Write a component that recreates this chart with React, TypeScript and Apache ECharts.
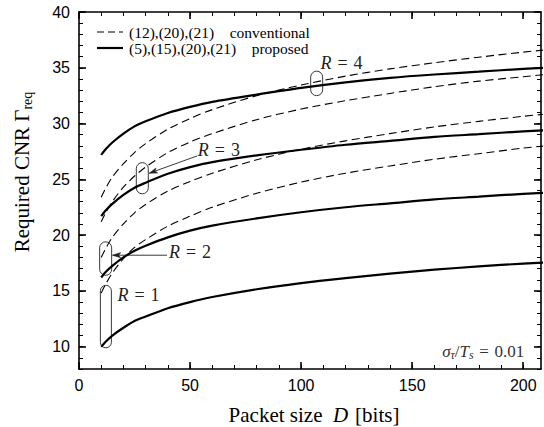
import React, { useEffect, useRef } from "react";
import * as echarts from "echarts";

// Packet size D [bits]
const packetSize = [10, 12, 15, 20, 25, 30, 40, 50, 60, 80, 100, 120, 140, 160, 180, 200, 210];

// proposed: (5),(15),(20),(21)
const proposedR1 = [10.0, 10.45, 11.0, 11.7, 12.3, 12.7, 13.45, 14.0, 14.45, 15.15, 15.7, 16.15, 16.55, 16.9, 17.2, 17.45, 17.55];
const proposedR2 = [16.2, 16.7, 17.25, 18.0, 18.6, 19.05, 19.8, 20.4, 20.85, 21.5, 22.05, 22.5, 22.85, 23.2, 23.45, 23.7, 23.8];
const proposedR3 = [21.7, 22.2, 22.8, 23.6, 24.25, 24.7, 25.5, 26.1, 26.55, 27.15, 27.65, 28.1, 28.45, 28.8, 29.05, 29.3, 29.4];
const proposedR4 = [27.2, 27.7, 28.3, 29.1, 29.75, 30.2, 30.95, 31.5, 31.95, 32.6, 33.2, 33.7, 34.1, 34.4, 34.65, 34.9, 35.0];

// conventional: (12),(20),(21)
const conventionalR1 = [14.8, 15.6, 16.6, 17.9, 18.9, 19.6, 20.8, 21.7, 22.5, 23.75, 24.75, 25.55, 26.2, 26.8, 27.3, 27.8, 28.0];
const conventionalR2 = [18.0, 18.8, 19.8, 21.0, 22.0, 22.75, 23.95, 24.8, 25.55, 26.75, 27.7, 28.45, 29.1, 29.7, 30.2, 30.65, 30.85];
const conventionalR3 = [21.2, 22.0, 23.0, 24.3, 25.3, 26.1, 27.4, 28.35, 29.1, 30.35, 31.3, 32.05, 32.7, 33.3, 33.8, 34.2, 34.4];
const conventionalR4 = [23.4, 24.2, 25.2, 26.4, 27.4, 28.2, 29.5, 30.45, 31.25, 32.5, 33.45, 34.25, 34.9, 35.45, 35.95, 36.4, 36.6];

// axes
const xMin = 0;
const xMax = 208;
const yMin = 8;
const yMax = 40;
const xMajorTicks = [0, 50, 100, 150, 200];
const xMinorTicks = [0, 10, 20, 30, 40, 50, 60, 70, 80, 90, 100, 110, 120, 130, 140, 150, 160, 170, 180, 190, 200];
const yMajorTicks = [10, 15, 20, 25, 30, 35, 40];
const yMinorTicks = [8, 9, 10, 11, 12, 13, 14, 15, 16, 17, 18, 19, 20, 21, 22, 23, 24, 25, 26, 27, 28, 29, 30, 31, 32, 33, 34, 35, 36, 37, 38, 39, 40];

const legendConventional = "(12),(20),(21)\u2002\u2002conventional";
const legendProposed = "(5),(15),(20),(21)\u2002\u2002proposed";

const SERIF = "'Liberation Serif', 'Times New Roman', serif";
const SANS = "'Liberation Sans', Arial, sans-serif";

function makeSeries(name: string, values: number[], dashed: boolean) {
  return {
    type: "line",
    name,
    data: packetSize.map((d, i) => [d, values[i]]),
    showSymbol: false,
    symbol: "none",
    smooth: 0.3,
    clip: true,
    silent: true,
    xAxisIndex: 0,
    yAxisIndex: 0,
    lineStyle: {
      color: "#000",
      width: dashed ? 1.1 : 2.2,
      type: dashed ? [8, 4.5] : "solid",
    },
  };
}

function xAxisDef(position: "bottom" | "top", major: boolean, labels: boolean) {
  return {
    type: "value",
    min: xMin,
    max: xMax,
    position,
    axisLine: { show: major, onZero: false, lineStyle: { color: "#000", width: 1.6 } },
    axisTick: {
      show: true,
      inside: true,
      length: major ? 7 : 4,
      customValues: major ? xMajorTicks : xMinorTicks,
      lineStyle: { color: "#000", width: major ? 1.6 : 1 },
    },
    axisLabel: labels
      ? { show: true, customValues: xMajorTicks, color: "#000", fontFamily: SANS, fontSize: 16, margin: 8 }
      : { show: false },
    splitLine: { show: false },
  };
}

function yAxisDef(position: "left" | "right", major: boolean, labels: boolean) {
  return {
    type: "value",
    min: yMin,
    max: yMax,
    position,
    axisLine: { show: major, onZero: false, lineStyle: { color: "#000", width: 1.6 } },
    axisTick: {
      show: true,
      inside: true,
      length: major ? 7 : 4,
      customValues: major ? yMajorTicks : yMinorTicks,
      lineStyle: { color: "#000", width: major ? 1.6 : 1 },
    },
    axisLabel: labels
      ? { show: true, customValues: yMajorTicks, color: "#000", fontFamily: SANS, fontSize: 16, margin: 9 }
      : { show: false },
    splitLine: { show: false },
  };
}

function buildGraphic(chart: echarts.ECharts) {
  const px = (x: number, y: number) =>
    chart.convertToPixel({ xAxisIndex: 0, yAxisIndex: 0 }, [x, y]) as number[];
  const els: any[] = [];
  const annoColor = "#222";

  const capsule = (cx: number, yTop: number, yBot: number, w: number) => {
    const a = px(cx, yTop);
    const b = px(cx, yBot);
    els.push({
      type: "rect",
      shape: { x: a[0] - w / 2, y: a[1], width: w, height: b[1] - a[1], r: w / 2 },
      style: { fill: "none", stroke: annoColor, lineWidth: 0.9 },
      silent: true,
    });
    return { right: a[0] + w / 2 };
  };

  const arrow = (x1: number, y1: number, x2: number, y2: number) => {
    els.push({
      type: "line",
      shape: { x1, y1, x2, y2 },
      style: { stroke: annoColor, lineWidth: 0.9 },
      silent: true,
    });
    const ang = Math.atan2(y2 - y1, x2 - x1);
    const L = 8;
    const H = 2.6;
    const bx = x2 - L * Math.cos(ang);
    const by = y2 - L * Math.sin(ang);
    const nx = -Math.sin(ang);
    const ny = Math.cos(ang);
    els.push({
      type: "polygon",
      shape: {
        points: [
          [x2, y2],
          [bx + nx * H, by + ny * H],
          [bx + L * 0.25 * Math.cos(ang), by + L * 0.25 * Math.sin(ang)],
          [bx - nx * H, by - ny * H],
        ],
      },
      style: { fill: annoColor, stroke: annoColor, lineWidth: 0.6 },
      silent: true,
    });
  };

  const rLabel = (x: number, y: number, n: string) => {
    const p = px(x, y);
    els.push({
      type: "text",
      x: p[0],
      y: p[1],
      silent: true,
      style: {
        text: "{i|R}{n|\u2004=\u2004" + n + "}",
        align: "left",
        verticalAlign: "middle",
        rich: {
          i: { fontFamily: SERIF, fontStyle: "italic", fontSize: 18, fill: annoColor, lineHeight: 20 },
          n: { fontFamily: SERIF, fontSize: 18, fill: annoColor, lineHeight: 20 },
        },
      },
    });
  };

  // capsules and arrows
  capsule(12.1, 15.5, 9.9, 11);
  const c2 = capsule(12.0, 19.4, 16.4, 12);
  const c3 = capsule(28.5, 26.5, 23.7, 12);
  capsule(107, 34.7, 32.5, 12);

  const a2 = px(39.6, 18.2);
  arrow(a2[0], a2[1], c2.right + 1, a2[1]);
  const a3s = px(53.2, 27.1);
  const a3e = px(28.5, 25.55);
  arrow(a3s[0], a3s[1], c3.right + 1, a3e[1]);

  rLabel(17.3, 14.6, "1");
  rLabel(40.5, 18.5, "2");
  rLabel(53.5, 27.6, "3");
  rLabel(108.7, 35.4, "4");

  // legend
  const lx1 = 97;
  const lx2 = 123;
  const ly1 = 32;
  const ly2 = 48;
  els.push({
    type: "line",
    shape: { x1: lx1, y1: ly1, x2: lx2, y2: ly1 },
    style: { stroke: "#000", lineWidth: 1.1, lineDash: [7, 4] },
    silent: true,
  });
  els.push({
    type: "line",
    shape: { x1: lx1, y1: ly2, x2: lx2, y2: ly2 },
    style: { stroke: "#000", lineWidth: 2.2 },
    silent: true,
  });
  els.push({
    type: "text",
    x: 129,
    y: ly1,
    silent: true,
    style: { text: legendConventional, fontFamily: SERIF, fontSize: 15.5, lineHeight: 15, fill: "#000", align: "left", verticalAlign: "middle" },
  });
  els.push({
    type: "text",
    x: 129,
    y: ly2,
    silent: true,
    style: { text: legendProposed, fontFamily: SERIF, fontSize: 15.5, lineHeight: 15, fill: "#000", align: "left", verticalAlign: "middle" },
  });

  // sigma label
  const sp = px(200.5, 9.6);
  els.push({
    type: "text",
    x: sp[0],
    y: sp[1],
    silent: true,
    style: {
      text: "{i|\u03c3}{s|\u03c4}{n|/}{i|T}{s|s}{n|\u2004=\u20040.01}",
      align: "right",
      verticalAlign: "middle",
      rich: {
        i: { fontFamily: SERIF, fontStyle: "italic", fontSize: 17, fill: "#333", lineHeight: 20, verticalAlign: "middle" },
        n: { fontFamily: SERIF, fontSize: 17, fill: "#333", lineHeight: 20, verticalAlign: "middle" },
        s: { fontFamily: SERIF, fontStyle: "italic", fontSize: 12, fill: "#333", lineHeight: 11, verticalAlign: "bottom" },
      },
    },
  });

  // axis titles
  const gridRect = { left: px(xMin, yMin)[0], right: px(xMax, yMin)[0], top: px(xMin, yMax)[1], bottom: px(xMin, yMin)[1] };
  els.push({
    type: "text",
    x: (gridRect.left + gridRect.right) / 2 + 4,
    y: 415,
    silent: true,
    style: {
      text: "{n|Packet size\u2002}{i|D}{n|\u2004[bits]}",
      align: "center",
      verticalAlign: "middle",
      rich: {
        n: { fontFamily: SERIF, fontSize: 21, fill: "#000", lineHeight: 24 },
        i: { fontFamily: SERIF, fontStyle: "italic", fontSize: 21, fill: "#000", lineHeight: 24 },
      },
    },
  });
  els.push({
    type: "text",
    x: 22,
    y: 172,
    rotation: Math.PI / 2,
    silent: true,
    style: {
      text: "{n|Required CNR \u0393}{s|req}",
      align: "center",
      verticalAlign: "middle",
      rich: {
        n: { fontFamily: SERIF, fontSize: 21, fill: "#000", lineHeight: 24, verticalAlign: "middle" },
        s: { fontFamily: SERIF, fontSize: 14, fill: "#000", lineHeight: 12, verticalAlign: "bottom" },
      },
    },
  });
  return els;
}

export default function App() {
  const ref = useRef<HTMLDivElement>(null);
  useEffect(() => {
    if (!ref.current) return;
    const chart = echarts.init(ref.current, null, { renderer: "svg" });
    const option: any = {
      animation: false,
      backgroundColor: "#fff",
      grid: { left: 79, right: 3, top: 12, bottom: 58, containLabel: false },
      xAxis: [
        xAxisDef("bottom", true, true),
        xAxisDef("bottom", false, false),
        xAxisDef("top", true, false),
        xAxisDef("top", false, false),
      ],
      yAxis: [
        yAxisDef("left", true, true),
        yAxisDef("left", false, false),
        yAxisDef("right", true, false),
        yAxisDef("right", false, false),
      ],
      series: [
        makeSeries("conventional R=1", conventionalR1, true),
        makeSeries("conventional R=2", conventionalR2, true),
        makeSeries("conventional R=3", conventionalR3, true),
        makeSeries("conventional R=4", conventionalR4, true),
        makeSeries("proposed R=1", proposedR1, false),
        makeSeries("proposed R=2", proposedR2, false),
        makeSeries("proposed R=3", proposedR3, false),
        makeSeries("proposed R=4", proposedR4, false),
      ],
    };
    chart.setOption(option);
    chart.setOption({ graphic: buildGraphic(chart) });
    return () => chart.dispose();
  }, []);
  return (
    <div
      ref={ref}
      style={{ position: "fixed", left: 0, top: 0, width: 544, height: 427, background: "#fff" }}
    />
  );
}
